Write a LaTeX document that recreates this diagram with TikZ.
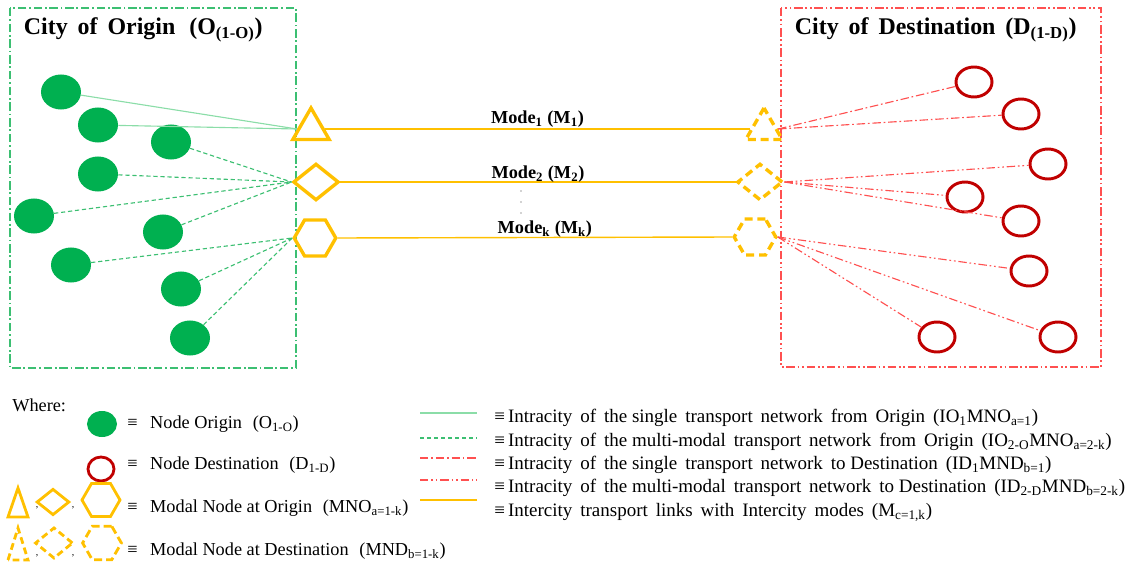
\documentclass[tikz,border=0pt]{standalone}
\usepackage{fontspec}
\setmainfont{Liberation Serif}
\usetikzlibrary{positioning}
\usetikzlibrary{shapes.geometric}

\definecolor{orgreen}{HTML}{00B050}
\definecolor{dsred}{HTML}{C00000}
\definecolor{modeor}{HTML}{FFC000}
\definecolor{lgreen}{HTML}{8BDDA8}
\definecolor{mgreen}{HTML}{3CBF72}
\definecolor{lred}{HTML}{FF5050}

\tikzset{
  orinode/.style={ellipse, fill=orgreen, minimum width=1cm, minimum height=0.875cm, inner sep=0pt},
  desnode/.style={ellipse, draw=dsred, line width=2.1pt, minimum width=0.9cm, minimum height=0.75cm, inner sep=0pt},
  modal/.style={draw=modeor, line width=2.4pt, inner sep=0pt},
  desmodal/.style={modal, dash pattern=on 0.2cm off 0.12cm},
  tribox/.style={regular polygon, regular polygon sides=3, minimum size=1.05cm},
  diabox/.style={diamond, minimum width=1.14cm, minimum height=0.92cm},
  hexbox/.style={regular polygon, regular polygon sides=6, minimum size=1.04cm},
  singleO/.style={lgreen, line width=0.8pt},
  multiO/.style={mgreen, line width=0.8pt, dash pattern=on 3pt off 2pt},
  singleD/.style={lred, line width=0.8pt, dash pattern=on 6pt off 2pt on 1.2pt off 2pt},
  multiD/.style={lred, line width=0.8pt, dash pattern=on 6pt off 2pt on 1.2pt off 2pt on 1.2pt off 2pt},
  intercity/.style={modeor, line width=1pt},
  citytitle/.style={font=\fontsize{17}{19}\selectfont\bfseries},
  modelabel/.style={text=black, font=\fontsize{13}{15}\selectfont\bfseries},
  legtext/.style={anchor=west, inner sep=0pt, font=\fontsize{13}{15}\selectfont},
  rlegtext/.style={legtext, font=\fontsize{13.5}{15}\selectfont},
  vdot/.style={circle, fill=gray!70, inner sep=0pt, minimum size=1.2pt},
}

\begin{document}
\begin{tikzpicture}[x=0.025cm, y=-0.025cm]
  \useasboundingbox (0,0) rectangle (1132,565);
  % city boxes
  \draw[mgreen, line width=0.8pt, dash pattern=on 6pt off 2pt on 1.2pt off 2pt] (10,8) rectangle (296,368);
  \draw[lred, line width=0.8pt, dash pattern=on 6pt off 2pt on 1.2pt off 2pt on 1.2pt off 2pt] (781,8) rectangle (1101,367);
  \node[citytitle, anchor=west] (otitle) at (19,30) {City\, of\, Origin\,\, (O\textsubscript{(1-O)})};
  \node[citytitle, anchor=west] (dtitle) at (790,30) {City\, of\, Destination\, (D\textsubscript{(1-D)})};

  % origin nodes
  \node[orinode] (o1) at (61,92) {};
  \node[orinode] (o2) at (98,125) {};
  \node[orinode] (o3) at (171,142) {};
  \node[orinode] (o4) at (98,174) {};
  \node[orinode] (o5) at (34,216) {};
  \node[orinode] (o6) at (163,232) {};
  \node[orinode] (o7) at (71,265) {};
  \node[orinode] (o8) at (181,289) {};
  \node[orinode] (o9) at (190,338) {};

  % destination nodes
  \node[desnode] (d1) at (974,82) {};
  \node[desnode] (d2) at (1021,114) {};
  \node[desnode] (d3) at (1048,164) {};
  \node[desnode] (d4) at (965,197) {};
  \node[desnode] (d5) at (1021,221) {};
  \node[desnode] (d6) at (1029,271) {};
  \node[desnode] (d7) at (937,337) {};
  \node[desnode] (d8) at (1058,337) {};

  % modal nodes
  \node[modal, tribox] (otri) at (311,129) {};
  \node[modal, diabox] (odia) at (316,182) {};
  \node[modal, hexbox] (ohex) at (315,238) {};
  \node[desmodal, tribox] (dtri) at (764,129) {};
  \node[desmodal, diabox] (ddia) at (760,182) {};
  \node[desmodal, hexbox] (dhex) at (755,237) {};

  % intracity origin
  \foreach \n in {o1,o2} \draw[singleO] (\n) -- (otri.west);
  \foreach \n in {o3,o4,o5,o6} \draw[multiO] (\n) -- (odia.west);
  \foreach \n in {o7,o8,o9} \draw[multiO] (\n) -- (ohex.west);
  % intracity destination
  \foreach \n in {d1,d2} \draw[singleD] (dtri.east) -- (\n);
  \foreach \n in {d3,d4,d5} \draw[multiD] (ddia.east) -- (\n);
  \foreach \n in {d6,d7,d8} \draw[multiD] (dhex.east) -- (\n);

  % intercity modes
  \draw[intercity] (otri.east) -- node[modelabel, above=-3pt] (m1) {Mode\textsubscript{1} (M\textsubscript{1})} (dtri.west);
  \draw[intercity] (odia.east) -- node[modelabel, above=-4pt] (m2) {Mode\textsubscript{2} (M\textsubscript{2})} (ddia.west);
  \draw[intercity] (ohex.east) -- node[modelabel, above=-4pt, xshift=7pt] (mk) {Mode\textsubscript{k} (M\textsubscript{k})} (dhex.west);
  \node[vdot] (vd1) at (521,191) {};
  \node[vdot] (vd2) at (521,202) {};
  \node[vdot] (vd3) at (521,213) {};

  % legend
  \node[legtext] (where) at (12,405) {Where:};
  \node[orinode, minimum width=0.75cm, minimum height=0.65cm] (lo) at (102,424) {};
  \node[desnode, line width=2pt, minimum width=0.65cm, minimum height=0.6cm] (ld) at (101,469) {};
  \draw[modal, line width=2pt, line join=miter] (8,517) -- (18,488) -- (28,517) -- cycle;
  \node[modal, line width=2pt, diamond, minimum width=0.82cm, minimum height=0.66cm] (ldia) at (53,502) {};
  \node[modal, line width=2pt, regular polygon, regular polygon sides=6, minimum size=0.95cm] (lhex) at (101,500) {};
  \draw[desmodal, line width=2pt, dash pattern=on 0.17cm off 0.1cm] (8,560) -- (18,528) -- (28,560) -- cycle;
  \node[desmodal, line width=2pt, dash pattern=on 0.17cm off 0.1cm, diamond, minimum width=0.95cm, minimum height=0.78cm] (ldda) at (54,543) {};
  \node[desmodal, line width=2pt, dash pattern=on 0.2cm off 0.1cm, regular polygon, regular polygon sides=6, minimum size=0.97cm] (ldhx) at (102,543) {};
  \foreach \x/\y in {37/508,73/508,37/556,73/556} \node[font=\scriptsize, inner sep=0pt] at (\x,\y) {,};

  \node[legtext] (t1) at (127,424) {≡\hspace{9pt}Node Origin\,\, (O\textsubscript{1-O})};
  \node[legtext] (t2) at (127,465) {≡\hspace{9pt}Node Destination\,\, (D\textsubscript{1-D})};
  \node[legtext] (t3) at (127,508) {≡\hspace{9pt}Modal Node at Origin\,\, (MNO\textsubscript{a=1-k})};
  \node[legtext] (t4) at (127,551) {≡\hspace{9pt}Modal Node at Destination\,\, (MND\textsubscript{b=1-k})};

  \coordinate (l1a) at (420,413); \coordinate (l1b) at (477,413);
  \coordinate (l2a) at (420,438); \coordinate (l2b) at (477,438);
  \coordinate (l3a) at (420,458); \coordinate (l3b) at (477,458);
  \coordinate (l4a) at (420,480); \coordinate (l4b) at (477,480);
  \coordinate (l5a) at (420,500); \coordinate (l5b) at (477,500);
  \draw[singleO] (l1a) -- (l1b);
  \draw[multiO] (l2a) -- (l2b);
  \draw[singleD] (l3a) -- (l3b);
  \draw[multiD] (l4a) -- (l4b);
  \draw[intercity] (l5a) -- (l5b);
  \node[rlegtext] (r1) at (494,418) {≡\,Intracity\, of\, the single\, transport\, network\, from\, Origin\, (IO\textsubscript{1}MNO\textsubscript{a=1})};
  \node[rlegtext] (r2) at (494,442) {≡\,Intracity\, of\, the multi-modal\, transport\, network\, from\, Origin\, (IO\textsubscript{2-O}MNO\textsubscript{a=2-k})};
  \node[rlegtext] (r3) at (494,465) {≡\,Intracity\, of\, the single\, transport\, network\, to Destination\, (ID\textsubscript{1}MND\textsubscript{b=1})};
  \node[rlegtext] (r4) at (494,488) {≡\,Intracity\, of\, the multi-modal\, transport\, network\, to Destination\, (ID\textsubscript{2-D}MND\textsubscript{b=2-k})};
  \node[rlegtext] (r5) at (494,512) {≡\,Intercity\, transport\, links\, with\, Intercity\, modes\, (M\textsubscript{c=1,k})};
\end{tikzpicture}
\end{document}
